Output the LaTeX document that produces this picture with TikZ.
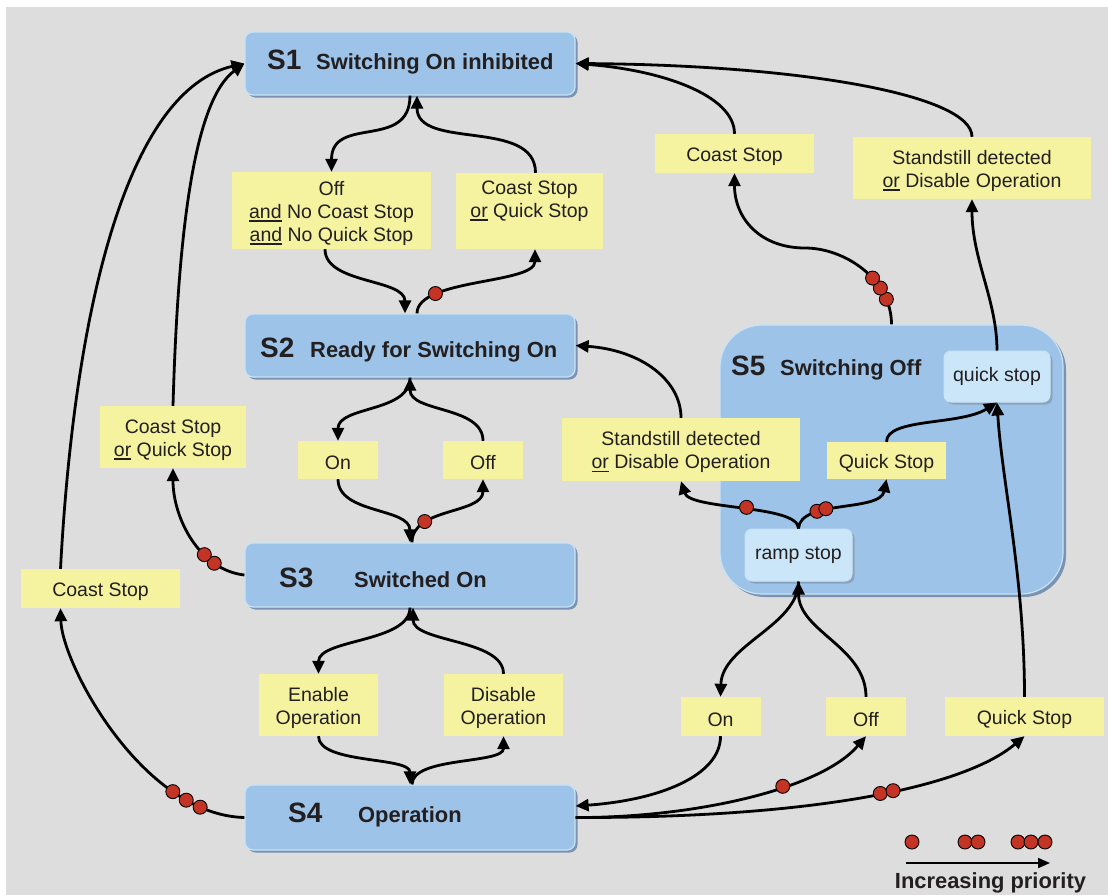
\documentclass[tikz,border=0pt]{standalone}
\usepackage{fontspec}
\setmainfont{Liberation Sans}
\usetikzlibrary{arrows.meta,shadows,calc}
\definecolor{bg}{RGB}{221,221,221}
\definecolor{lblyellow}{RGB}{245,242,160}
\definecolor{stblue}{RGB}{157,195,232}
\definecolor{sthi}{RGB}{200,226,246}
\definecolor{stsh}{RGB}{122,147,178}
\definecolor{inblue}{RGB}{202,230,248}
\definecolor{dotred}{RGB}{196,52,36}
\definecolor{txt}{RGB}{35,31,32}
\newcommand\undl[1]{\setbox0\hbox{#1}\rlap{\rule[-3.4pt]{\wd0}{1.5pt}}\box0\relax}
\newcommand\fstln{\rule{0pt}{19.4pt}}
\newcommand\lblfont{\fontsize{19.5}{23}\selectfont}
\newcommand\ttlfont{\fontsize{21.9}{26}\selectfont\bfseries}
\newcommand\numfont{\fontsize{28}{32}\selectfont\bfseries}
\tikzset{
  state/.style={rectangle, rounded corners=8pt, fill=stblue, draw=sthi, line width=1.2pt,
    copy shadow={shadow xshift=2.5pt, shadow yshift=-2.5pt, fill=stsh, draw=none}, inner sep=0},
  innerst/.style={rectangle, rounded corners=7pt, fill=inblue, draw=sthi, line width=1pt,
    copy shadow={shadow xshift=2.5pt, shadow yshift=-2.5pt, fill=stsh!80!inblue, draw=none},
    inner sep=0, font=\lblfont, text=txt},
  lbl/.style={rectangle, fill=lblyellow, inner sep=0, align=center, font=\lblfont, text=txt},
  conn/.style={line width=2.8pt, -{Triangle[length=13pt,width=12pt]}},
  dot/.style={circle, fill=dotred, draw=black, line width=0.9pt, minimum size=14pt, inner sep=0},
  num/.style={font=\numfont, text=txt, anchor=base west, inner sep=0},
  ttl/.style={font=\ttlfont, text=txt, anchor=base west, inner sep=0},
}
\begin{document}
\begin{tikzpicture}[x=1pt,y=-1pt]
\useasboundingbox (0,0) rectangle (1108,895);
\fill[white] (0,0) rectangle (1108,895);
\fill[bg] (6,7) rectangle (1108,895);

% S5 region and inner states
\node[state, rounded corners=42pt, minimum width=343pt, minimum height=269pt, copy shadow={shadow xshift=3pt, shadow yshift=-3pt, fill=stsh, draw=none}] (s5) at (891.5,459.5) {};
\node[num] (s5n) at (731,375) {S5};
\node[ttl] (s5t) at (780,375) {Switching Off};
\node[innerst, minimum width=106pt, minimum height=51pt] (qs) at (997,376.5) {quick stop};
\node[innerst, minimum width=107pt, minimum height=52pt] (rs) at (798.5,555) {ramp stop};

% main states
\node[state, minimum width=330pt, minimum height=63pt] (s1) at (410,63.5) {};
\node[num] (s1n) at (267,69) {S1};
\node[ttl] (s1t) at (316,69) {Switching On inhibited};
\node[state, minimum width=330pt, minimum height=63pt] (s2) at (410,345.5) {};
\node[num] (s2n) at (260,357) {S2};
\node[ttl] (s2t) at (310,357) {Ready for Switching On};
\node[state, minimum width=330pt, minimum height=64pt] (s3) at (410,575) {};
\node[num] (s3n) at (279,587) {S3};
\node[ttl] (s3t) at (354,587) {Switched On};
\node[state, minimum width=330pt, minimum height=65pt] (s4) at (410,817.5) {};
\node[num] (s4n) at (288,822) {S4};
\node[ttl] (s4t) at (358,822) {Operation};

% labels
\node[lbl, minimum width=199pt, minimum height=77pt] (l1) at (331.5,210.5) {\fstln Off\\\undl{and} No Coast Stop\\\undl{and} No Quick Stop};
\node[lbl, minimum width=147pt, minimum height=76pt] (l2) at (529.5,211) {\fstln Coast Stop\\\undl{or} Quick Stop\\\strut};
\node[lbl, minimum width=159pt, minimum height=39pt] (l3) at (734.5,153.5) {\fstln Coast Stop};
\node[lbl, minimum width=238pt, minimum height=62pt] (l4) at (972,168) {\fstln Standstill detected\\\undl{or} Disable Operation};
\node[lbl, minimum width=80pt, minimum height=38pt] (l5) at (338,460) {\fstln On};
\node[lbl, minimum width=80pt, minimum height=38pt] (l6) at (483,460) {\fstln Off};
\node[lbl, minimum width=146pt, minimum height=62pt] (l7) at (173,437) {\fstln Coast Stop\\\undl{or} Quick Stop};
\node[lbl, minimum width=238pt, minimum height=63pt] (l8) at (681,449.5) {\fstln Standstill detected\\\undl{or} Disable Operation};
\node[lbl, minimum width=119pt, minimum height=37pt] (l9) at (886.5,460.5) {\fstln Quick Stop};
\node[lbl, minimum width=159pt, minimum height=39pt] (l10) at (100.5,588.5) {\fstln Coast Stop};
\node[lbl, minimum width=119pt, minimum height=62pt] (l11) at (318.5,705) {\fstln Enable\\Operation};
\node[lbl, minimum width=119pt, minimum height=62pt] (l12) at (503.5,705) {\fstln Disable\\Operation};
\node[lbl, minimum width=80pt, minimum height=39pt] (l13) at (720.5,716.5) {\fstln On};
\node[lbl, minimum width=80pt, minimum height=39pt] (l14) at (866,716.5) {\fstln Off};
\node[lbl, minimum width=159pt, minimum height=39pt] (l15) at (1024.5,716.5) {\fstln Quick Stop};

\coordinate (w27) at (805,248);

% connectors
\draw[conn] (s1.south) .. controls +(0,55) and +(0,-57) .. (l1.north);
\draw[conn] ([xshift=6pt]l2.north) .. controls +(0,-55) and +(0,55) .. ([xshift=7pt]s1.south);
\draw[conn] ([xshift=-6.5pt]l1.south) .. controls +(0,35) and +(0,-35) .. ([xshift=-5pt]s2.north);
\draw[conn] ([xshift=7pt]s2.north) .. controls +(0,-35) and +(0,35) .. ([xshift=5.5pt]l2.south) node[dot,pos=0.25] (d1) {};
\draw[conn] (s2.south) .. controls +(0,35) and +(0,-35) .. (l5.north);
\draw[conn] (l6.north) .. controls +(0,-35) and +(0,35) .. (s2.south);
\draw[conn] (l5.south) .. controls +(0,35) and +(0,-35) .. (s3.north);
\draw[conn] ([xshift=2pt]s3.north) .. controls +(0,-35) and +(0,35) .. (l6.south) node[dot,pos=0.27] (d2) {};
\draw[conn] (s3.west) .. controls +(-45,-5) and +(0,50) .. (l7.south) node[dot,pos=0.25] (d3) {} node[dot,pos=0.35] (d4) {};
\draw[conn] (l7.north) .. controls +(5,-176) and +(-50,36.5) .. (s1.west);
\draw[conn] ([xshift=-40pt]l10.north) .. controls +(14.5,-269) and +(-115,26.5) .. (s1.west);
\draw[conn] (s4.west) .. controls +(-102,-2.5) and +(1.5,56) .. ([xshift=-40pt]l10.south)
  node[dot,pos=0.15] (d5) {} node[dot,pos=0.2] (d6) {} node[dot,pos=0.25] (d7) {};
\draw[conn] (s3.south) .. controls +(0,35) and +(0,-35) .. (l11.north);
\draw[conn] (l12.north) .. controls +(0,-35) and +(0,35) .. ([xshift=3pt]s3.south);
\draw[conn] (l11.south) .. controls +(0,28) and +(0,-28) .. (s4.north);
\draw[conn] ([xshift=2pt]s4.north) .. controls +(0,-28) and +(0,28) .. (l12.south);
\draw[conn] (s4.east) .. controls +(115,0.5) and +(-46,54) .. (l14.south) node[dot,pos=0.62] (d8) {};
\draw[conn] (s4.east) .. controls +(225,0.5) and +(-64.5,54) .. (l15.south) node[dot,pos=0.545] (d9) {} node[dot,pos=0.575] (d10) {};
\draw[conn] (l13.south) .. controls +(0,39) and +(85,-6) .. ([yshift=11.5pt]s4.east);
\draw[conn] (rs.south) .. controls +(0,44) and +(1.5,-52) .. (l13.north);
\draw[conn] (l14.north) .. controls +(0,-50) and +(0,50) .. (rs.south);
\draw[conn] (l15.north) .. controls +(0,-120) and +(5,80) .. (qs.south);
\draw[conn] (rs.north) .. controls +(0,-24) and +(9,29) .. (l8.south) node[dot,pos=0.48] (d11) {};
\draw[conn] (rs.north) .. controls +(1.5,-29) and +(-6.5,33) .. (l9.south) node[dot,pos=0.3] (d12) {} node[dot,pos=0.38] (d13) {};
\draw[conn] (l9.north) .. controls +(0,-24) and +(-37,23) .. (qs.south);
\draw[conn] (l8.north) .. controls +(0,-38) and +(65,4.5) .. (s2.east);
\draw[conn] (s5.north) .. controls +(0,-45) and +(40,0) .. (w27)
  node[dot,pos=0.2] (d14) {} node[dot,pos=0.3] (d15) {} node[dot,pos=0.4] (d16) {}
  .. controls +(-45,0) and +(0,45) .. (l3.south);
\draw[conn] (l3.north) .. controls +(0,-39) and +(85,6.5) .. (s1.east);
\draw[conn] (qs.north) .. controls +(0,-50) and +(0,60) .. (l4.south);
\draw[conn] (l4.north) .. controls +(0,-42) and +(225,1.5) .. (s1.east);

% legend
\node[dot] (k1) at (912,842) {};
\node[dot] (k2) at (965,842) {};
\node[dot] (k3) at (978,842) {};
\node[dot] (k4) at (1018,842) {};
\node[dot] (k5) at (1031,842) {};
\node[dot] (k6) at (1045,842) {};
\coordinate (la) at (906,863);
\coordinate (lb) at (1050,863);
\draw[line width=1.8pt, -{Triangle[length=12pt,width=10pt]}] (la) -- (lb);
\node[font=\ttlfont, text=txt, anchor=base, inner sep=0] (legtxt) at (990.5,888) {Increasing priority};
\end{tikzpicture}
\end{document}
